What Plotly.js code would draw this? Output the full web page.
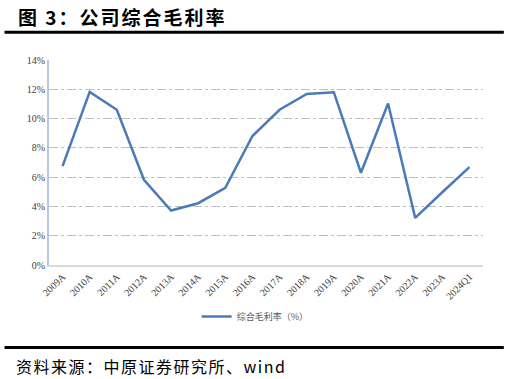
<!DOCTYPE html>
<html><head><meta charset="utf-8">
<script src="https://cdn.plot.ly/plotly-3.0.1.min.js"></script>
<style>
html,body{margin:0;padding:0;background:#fff;}
#wrap{position:relative;width:510px;height:379px;}
#c{width:510px;height:379px;}
.t{position:absolute;left:18px;font-family:"Noto Sans CJK SC",sans-serif;color:#000;white-space:nowrap;line-height:1;}
#title{top:7px;font-size:19px;font-weight:bold;letter-spacing:2px;}
#src{top:358px;font-size:16px;letter-spacing:1.5px;left:16px;}
</style>
</head><body><div id="wrap"><div id="c"></div>
<div class="t" id="title">图 3：公司综合毛利率</div>
<div class="t" id="src">资料来源：中原证券研究所、wind</div>
</div>
<script>
const categories = ["2009A","2010A","2011A","2012A","2013A","2014A","2015A","2016A","2017A","2018A","2019A","2020A","2021A","2022A","2023A","2024Q1"];
const grossMargin = [6.75,11.82,10.6,5.82,3.72,4.22,5.27,8.81,10.6,11.68,11.8,6.3,11.03,3.22,4.97,6.68];
const yTickVals = [0,2,4,6,8,10,12,14];
const yTickText = ["0%","2%","4%","6%","8%","10%","12%","14%"];
const seriesName = "综合毛利率（%）";

const trace = {
  x: categories, y: grossMargin, type: "scatter", mode: "lines",
  name: seriesName, line: {color: "#4a7ab8", width: 2.5}
};
const serif = "Liberation Serif, Times New Roman, serif";
const layout = {
  width: 510, height: 379,
  margin: {l: 49, r: 27, t: 60, b: 114},
  paper_bgcolor: "#fff", plot_bgcolor: "#fff",
  showlegend: true,
  legend: {orientation: "h", x: 0.475, xanchor: "center", y: -0.18, yanchor: "top",
    font: {family: "Noto Sans CJK SC, sans-serif", size: 9, color: "#595959"}},
  xaxis: {type: "category", range: [-0.5, 15.5], tickangle: -45,
    tickfont: {family: serif, size: 10, color: "#404040"},
    showline: true, linecolor: "#d9d9d9", linewidth: 2, showgrid: false,
    ticks: "", zeroline: false, fixedrange: true},
  yaxis: {range: [0, 14], tickvals: yTickVals, ticktext: yTickText,
    tickfont: {family: serif, size: 10, color: "#404040"},
    showline: true, linecolor: "#b4c7e7", linewidth: 2,
    gridcolor: "#bfbfbf", griddash: "dashdot", gridwidth: 1,
    ticks: "", zeroline: false, fixedrange: true},
  shapes: [
    {type: "line", xref: "paper", yref: "paper", x0: -0.1025, x1: 1.048, y0: 1.135, y1: 1.135, line: {color: "#000", width: 3}},
    {type: "line", xref: "paper", yref: "paper", x0: -0.1025, x1: 1.048, y0: -0.403, y1: -0.403, line: {color: "#000", width: 3}}
  ]
};
Plotly.newPlot("c", [trace], layout, {displayModeBar: false, staticPlot: true});
</script></body></html>
